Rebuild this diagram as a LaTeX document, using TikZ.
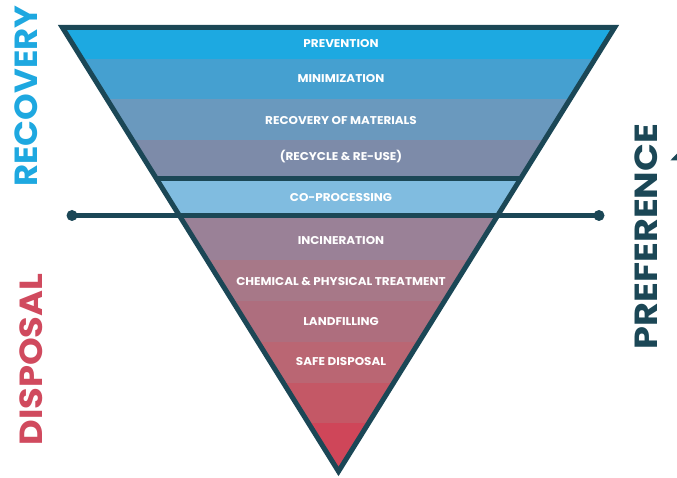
\documentclass[tikz,border=0pt]{standalone}
\usepackage{fontspec}
\setmainfont{Poppins}[FakeStretch=1.06]
\usetikzlibrary{positioning}

\definecolor{outline}{HTML}{1B4756}
\definecolor{recblue}{HTML}{1EA8E0}
\definecolor{disred}{HTML}{D04A5E}
\definecolor{bandA}{HTML}{1DA9E1}
\definecolor{bandB}{HTML}{45A0D0}
\definecolor{bandC}{HTML}{6A99BE}
\definecolor{bandD}{HTML}{7D8BA9}
\definecolor{bandE}{HTML}{80BCE0}
\definecolor{bandF}{HTML}{9A8197}
\definecolor{bandG}{HTML}{A77888}
\definecolor{bandH}{HTML}{AE6E7E}
\definecolor{bandI}{HTML}{BA6673}
\definecolor{bandJ}{HTML}{C45866}
\definecolor{bandK}{HTML}{CF4659}

\tikzset{
  bandlabel/.style={text=white, font=\bfseries\fontsize{11.3}{13}\selectfont, inner sep=0pt},
  sidelabel/.style={rotate=90, font=\bfseries\fontsize{32}{34}\selectfont, inner sep=0pt},
  enddot/.style={circle, fill=outline, minimum size=11pt, inner sep=0pt},
  edge/.style={draw=outline, line width=5pt}
}

\begin{document}
\begin{tikzpicture}[x=1pt, y=-1pt]
    \useasboundingbox (0,0) rectangle (677,478);

    % 1) Colour bands, clipped to the funnel
    \begin{scope}
      \clip (62.4,27.5) -- (614.6,27.5) -- (338.5,471.4) -- cycle;
      \foreach \top/\bot/\col in {20/59/bandA, 59/99/bandB, 99/140/bandC,
          140/178/bandD, 178/216/bandE, 216/260/bandF, 260/301/bandG,
          301/342/bandH, 342/383/bandI, 383/423/bandJ, 423/480/bandK} {
        \fill[\col] (50,\top) rectangle (630,\bot);
      }
      % divider above co-processing
      \draw[outline, line width=5pt] (50,178.5) -- (630,178.5);
    \end{scope}

    % 2) Band labels
    \foreach \y/\txt [count=\i] in {44/PREVENTION, 79/MINIMIZATION,
        121/RECOVERY OF MATERIALS, 157/(RECYCLE \& RE-USE),
        198/CO-PROCESSING, 241/INCINERATION,
        282/CHEMICAL \& PHYSICAL TREATMENT, 322/LANDFILLING,
        362/SAFE DISPOSAL} {
      \node[bandlabel] (band\i) at (341,\y) {\txt};
    }

    % 3) Funnel outline
    \draw[edge, line join=miter] (62.4,27.5) -- (614.6,27.5) -- (338.5,471.4) -- cycle;

    % 4) Horizontal bar with end dots
    \node[enddot] (dotL) at (72,215.5) {};
    \node[enddot] (dotR) at (599,215.5) {};
    \draw[outline, line width=5pt] (dotL.center) -- (dotR.center);

    % 5) Side labels
    \node[sidelabel, text=recblue] (recovery) at (26.5,96) {RECOVERY};
    \node[sidelabel, text=disred] (disposal) at (31.5,359.5) {\scalebox{1.04}[1]{DISPOSAL}};
    \node[sidelabel, text=outline] (preference) at (646.5,236.5) {\scalebox{1.08}[1]{PREFERENCE}};

    % 6) Arrow tip at the edge
    \fill[outline] (670.3,160.5) -- (677,153.5) -- (677,160.5) -- cycle;
\end{tikzpicture}
\end{document}
